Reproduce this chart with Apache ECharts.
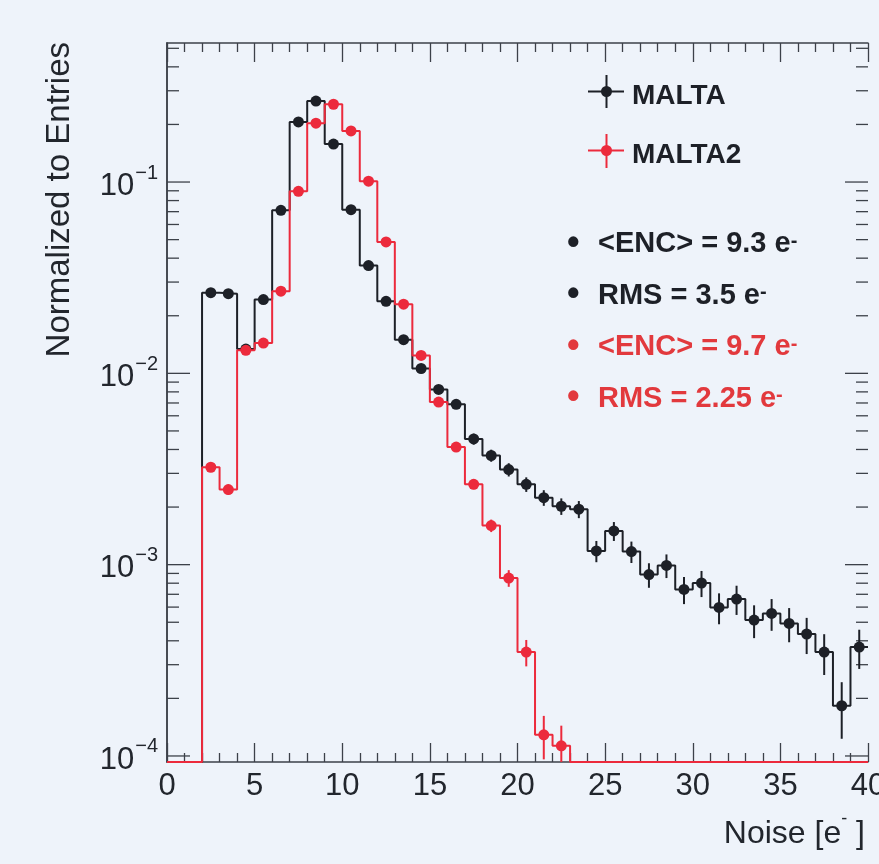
<!DOCTYPE html>
<html>
<head>
<meta charset="utf-8">
<title>Noise distribution MALTA / MALTA2</title>
<script src="https://cdn.jsdelivr.net/npm/echarts@6/dist/echarts.min.js"></script>
<style>
html, body { margin: 0; padding: 0; background: #eef3fa; }
#chart { width: 879px; height: 864px; }
</style>
</head>
<body>
<div id="chart"></div>
<script>
// bin edges of the noise histogram [e-]
const binEdges = [0, 1, 2, 3, 4, 5, 6, 7, 8, 9, 10, 11, 12, 13, 14, 15, 16, 17, 18, 19, 20,
    21, 22, 23, 24, 25, 26, 27, 28, 29, 30, 31, 32, 33, 34, 35, 36, 37, 38, 39, 40];

// MALTA, normalized entries per bin and their errors
const maltaValues = [0, 0, 0.0264, 0.0261, 0.0134, 0.0243, 0.0711, 0.206, 0.265, 0.158,
    0.0717, 0.0366, 0.0238, 0.0150, 0.0106, 0.00824, 0.00689, 0.00454, 0.00372, 0.00314,
    0.00263, 0.00224, 0.00202, 0.00195, 0.00118, 0.00150, 0.00117, 0.000887, 0.000991, 0.000742,
    0.000802, 0.000598, 0.000661, 0.000513, 0.000556, 0.000493, 0.000434, 0.000349, 0.000183, 0.000371];
const maltaErrors = [0, 0, 0.00073, 0.00072, 0.00052, 0.0007, 0.0012, 0.002, 0.0023, 0.0018,
    0.0012, 0.00086, 0.00069, 0.00055, 0.00046, 0.00041, 0.00037, 0.0003, 0.00027, 0.00025,
    0.00023, 0.00021, 0.0002, 0.0002, 0.00015, 0.00017, 0.00015, 0.00013, 0.00014, 0.00012,
    0.000125, 0.00011, 0.000115, 0.0001, 0.000105, 0.0001, 0.000093, 0.000084, 0.00006, 0.000086];

// MALTA2
const malta2Values = [0, 0, 0.00323, 0.00247, 0.0132, 0.0144, 0.0269, 0.0894, 0.203, 0.255,
    0.185, 0.101, 0.0486, 0.0230, 0.0124, 0.00708, 0.00412, 0.00263, 0.00160, 0.000851,
    0.000349, 0.000129, 0.000113, 0, 0, 0, 0, 0, 0, 0,
    0, 0, 0, 0, 0, 0, 0, 0, 0, 0];
const malta2Errors = [0, 0, 0.00017, 0.00015, 0.00034, 0.00035, 0.00048, 0.00087, 0.0013, 0.0015,
    0.00125, 0.00093, 0.00064, 0.00044, 0.00033, 0.00025, 0.00019, 0.00015, 0.00012, 0.000085,
    0.000055, 0.000033, 0.000031, 0, 0, 0, 0, 0, 0, 0,
    0, 0, 0, 0, 0, 0, 0, 0, 0, 0];

// axis ranges and tick values
const xMin = 0, xMax = 40;
const yMin = 9.3e-5, yMax = 0.533;
const yDecades = [1e-5, 1e-4, 1e-3, 1e-2, 1e-1];
const yMinorSteps = [2, 3, 4, 5, 6, 7, 8, 9];

const statsLines = [
    { text: '<ENC> = 9.3 e', color: '#1d2027' },
    { text: 'RMS = 3.5 e', color: '#1d2027' },
    { text: '<ENC> = 9.7 e', color: '#e2393d' },
    { text: 'RMS = 2.25 e', color: '#e2393d' }
];

const black = '#1d2027';
const red = '#ec2a3c';
const axisColor = '#3c4149';
const font = '"Liberation Sans", Arial, Helvetica, sans-serif';

function stepData(values) {
    const pts = [];
    for (let i = 0; i < values.length; i++) {
        pts.push([binEdges[i], values[i] > 0 ? values[i] : yMin]);
    }
    const last = values[values.length - 1];
    pts.push([binEdges[binEdges.length - 1], last > 0 ? last : yMin]);
    return pts;
}

function pointData(values, errors) {
    const pts = [];
    values.forEach((v, i) => {
        if (v > 0) pts.push([(binEdges[i] + binEdges[i + 1]) / 2, v, errors[i]]);
    });
    return pts;
}

function errorBarSeries(values, errors, color, z) {
    return {
        type: 'custom',
        silent: true,
        z: z,
        data: pointData(values, errors),
        renderItem: function (params, api) {
            const x = api.value(0), v = api.value(1), e = api.value(2);
            const top = api.coord([x, Math.min(v + e, yMax)]);
            const bot = api.coord([x, Math.max(v - e, yMin)]);
            return {
                type: 'line',
                shape: { x1: top[0], y1: top[1], x2: bot[0], y2: bot[1] },
                style: { stroke: color, lineWidth: 2 }
            };
        }
    };
}

// log axis ticks (2..9 x 10^n) drawn on both sides of the frame
const yTickData = [];
yDecades.forEach((d) => {
    if (d >= yMin && d <= yMax) yTickData.push([xMin, d, 1]);
    yMinorSteps.forEach((m) => {
        const v = d * m;
        if (v >= yMin && v <= yMax) yTickData.push([xMin, v, 0]);
    });
});

function isDecade(v) {
    const l = Math.log10(v);
    return Math.abs(l - Math.round(l)) < 1e-6;
}

const chart = echarts.init(document.getElementById('chart'));

let option = {
    backgroundColor: '#eef3fa',
    animation: false,
    grid: { left: 167, right: 11, top: 43, bottom: 102, containLabel: false, outerBoundsMode: 'none' },
    xAxis: [
        {
            type: 'value', min: xMin, max: xMax, interval: 5,
            axisLine: { show: true, lineStyle: { color: axisColor, width: 1.5 } },
            axisTick: { show: true, inside: true, length: 19, lineStyle: { color: axisColor, width: 1.3 } },
            minorTick: { show: true, splitNumber: 5, length: 9, lineStyle: { color: axisColor, width: 1.3 } },
            splitLine: { show: false },
            axisLabel: { fontSize: 31, color: '#22262d', fontFamily: font, margin: 9 }
        },
        {
            type: 'value', min: xMin, max: xMax, interval: 5, position: 'top',
            axisLine: { show: true, lineStyle: { color: axisColor, width: 1.5 } },
            axisTick: { show: true, inside: true, length: 19, lineStyle: { color: axisColor, width: 1.3 } },
            minorTick: { show: true, splitNumber: 5, length: 9, lineStyle: { color: axisColor, width: 1.3 } },
            splitLine: { show: false },
            axisLabel: { show: false }
        }
    ],
    yAxis: [
        {
            type: 'log', min: yMin, max: yMax, logBase: 10,
            axisLine: { show: true, lineStyle: { color: axisColor, width: 1.5 } },
            axisTick: { show: false },
            splitLine: { show: false },
            axisLabel: {
                showMinLabel: false, showMaxLabel: false, margin: 9,
                formatter: function (v) {
                    if (!isDecade(v)) return '';
                    return '{b|10}{s|\u2212' + (-Math.round(Math.log10(v))) + '}';
                },
                rich: {
                    b: { fontSize: 31, color: '#22262d', fontFamily: font, padding: [8, 0, 0, 0] },
                    s: { fontSize: 20, color: '#22262d', fontFamily: font, padding: [0, 0, 18, 1] }
                }
            }
        },
        {
            type: 'log', min: yMin, max: yMax, logBase: 10, position: 'right',
            axisLine: { show: true, lineStyle: { color: axisColor, width: 1.5 } },
            axisTick: { show: false },
            splitLine: { show: false },
            axisLabel: { show: false }
        }
    ],
    graphic: [
        {
            type: 'text', x: 60, y: 42, rotation: Math.PI / 2,
            style: {
                text: 'Normalized to Entries', fontSize: 33, fontFamily: font, fill: '#22262d',
                align: 'right', verticalAlign: 'middle'
            }
        },
        {
            type: 'text', x: 865, y: 834,
            style: {
                text: '{n|Noise [e}{s|-}{n| ]}', align: 'right', verticalAlign: 'middle',
                rich: {
                    n: { fontSize: 32, fontFamily: font, fill: '#22262d' },
                    s: { fontSize: 18, fontFamily: font, fill: '#22262d', padding: [0, 0, 29, 0] }
                }
            }
        },
        // legend
        { type: 'line', shape: { x1: 588, y1: 91.5, x2: 624, y2: 91.5 }, style: { stroke: black, lineWidth: 2 } },
        { type: 'line', shape: { x1: 606.5, y1: 75, x2: 606.5, y2: 108 }, style: { stroke: black, lineWidth: 2 } },
        { type: 'circle', shape: { cx: 606.5, cy: 91.5, r: 5.5 }, style: { fill: black } },
        { type: 'line', shape: { x1: 588, y1: 150.5, x2: 624, y2: 150.5 }, style: { stroke: red, lineWidth: 2 } },
        { type: 'line', shape: { x1: 606.5, y1: 134, x2: 606.5, y2: 168 }, style: { stroke: red, lineWidth: 2 } },
        { type: 'circle', shape: { cx: 606.5, cy: 150.5, r: 5.5 }, style: { fill: red } },
        {
            type: 'text', x: 632, y: 96,
            style: { text: 'MALTA', fontSize: 28, fontWeight: 'bold', fontFamily: font, fill: black, verticalAlign: 'middle' }
        },
        {
            type: 'text', x: 632, y: 155,
            style: { text: 'MALTA2', fontSize: 28, fontWeight: 'bold', fontFamily: font, fill: black, verticalAlign: 'middle' }
        }
    ],
    series: [
        {
            type: 'line', name: 'MALTA', step: 'end', clip: false, data: stepData(maltaValues),
            symbol: 'none', lineStyle: { color: black, width: 2 }, z: 2
        },
        errorBarSeries(maltaValues, maltaErrors, black, 3),
        {
            type: 'scatter', name: 'MALTA', data: pointData(maltaValues, maltaErrors),
            symbol: 'circle', symbolSize: 11, itemStyle: { color: black, opacity: 1 }, z: 4
        },
        {
            type: 'line', name: 'MALTA2', step: 'end', clip: false, data: stepData(malta2Values),
            symbol: 'none', lineStyle: { color: red, width: 2 }, z: 5
        },
        errorBarSeries(malta2Values, malta2Errors, red, 6),
        {
            type: 'scatter', name: 'MALTA2', data: pointData(malta2Values, malta2Errors),
            symbol: 'circle', symbolSize: 11, itemStyle: { color: red, opacity: 1 }, z: 7
        },
        {
            type: 'custom', silent: true, z: 1, data: yTickData,
            renderItem: function (params, api) {
                const v = api.value(1);
                const len = api.value(2) ? 23 : 12;
                const l = api.coord([xMin, v]);
                const r = api.coord([xMax, v]);
                return {
                    type: 'group',
                    children: [
                        { type: 'line', shape: { x1: l[0], y1: l[1], x2: l[0] + len, y2: l[1] }, style: { stroke: axisColor, lineWidth: 1.3 } },
                        { type: 'line', shape: { x1: r[0] - len, y1: r[1], x2: r[0], y2: r[1] }, style: { stroke: axisColor, lineWidth: 1.3 } }
                    ]
                };
            }
        }
    ]
};

// stats box: bullet + text with superscript minus
statsLines.forEach((s, i) => {
    option.graphic.push({
        type: 'text', x: 567, y: 244 + i * 51.5,
        style: {
            text: '{d|\u2022}{t|' + s.text + '}{s|-}', verticalAlign: 'middle',
            rich: {
                d: { width: 31, fontSize: 36, fontWeight: 'bold', fontFamily: font, fill: s.color },
                t: { fontSize: 29, fontWeight: 'bold', fontFamily: font, fill: s.color },
                s: { fontSize: 20, fontWeight: 'bold', fontFamily: font, fill: s.color, padding: [0, 0, 6, 0] }
            }
        }
    });
});

chart.setOption(option);
</script>
</body>
</html>
